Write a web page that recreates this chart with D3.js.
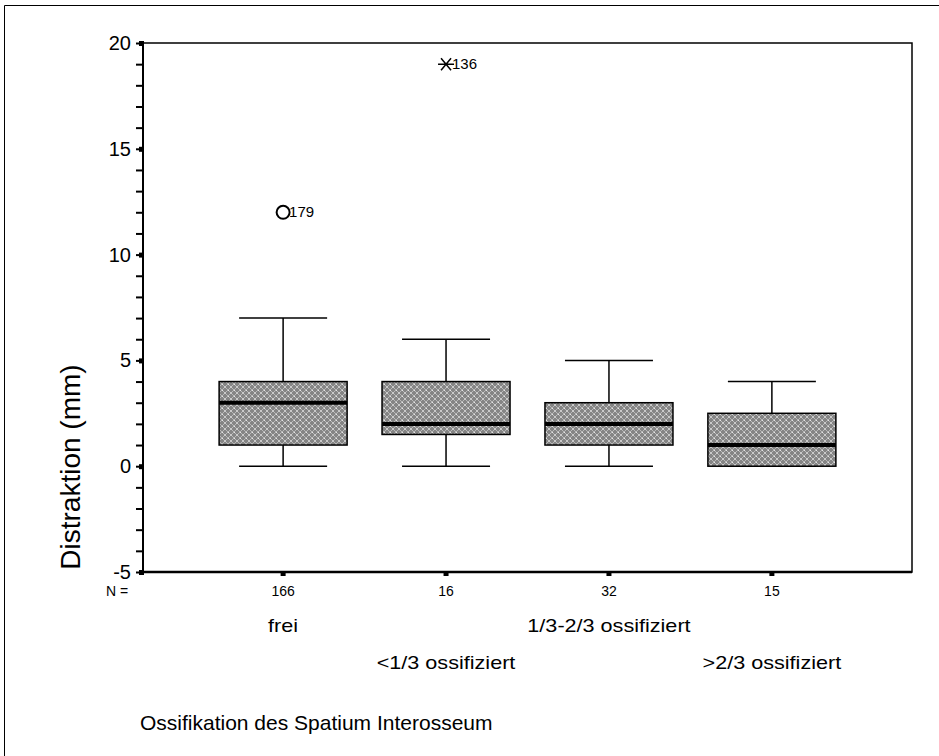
<!DOCTYPE html>
<html>
<head>
<meta charset="utf-8">
<script src="https://cdn.jsdelivr.net/npm/d3@7"></script>
<style>
  body { margin: 0; background: #fff; }
  svg { font-family: Arial, "Liberation Sans", sans-serif; }
</style>
</head>
<body>
<script>
// groups and their box statistics
var groups = ["frei", "<1/3 ossifiziert", "1/3-2/3 ossifiziert", ">2/3 ossifiziert"];
var counts = [166, 16, 32, 15];
var mins = [0, 0, 0, 0];
var q1s = [1, 1.5, 1, 0];
var medians = [3, 2, 2, 1];
var q3s = [4, 4, 3, 2.5];
var maxs = [7, 6, 5, 4];
// outliers: group index, value, case label, type
var outliers = [
  { g: 0, v: 12, label: "179", type: "circle" },
  { g: 1, v: 19, label: "136", type: "star" }
];
var yTicks = [-5, 0, 5, 10, 15, 20];

var W = 939, H = 756;
var mLeft = 143, mRight = 912, mTop = 43, mBottom = 572;

var svg = d3.select("body").append("svg")
  .attr("width", W)
  .attr("height", H);

var defs = svg.append("defs");
var pat = defs.append("pattern")
  .attr("id", "hatch")
  .attr("patternUnits", "userSpaceOnUse")
  .attr("width", 6)
  .attr("height", 6);
pat.append("rect").attr("width", 6).attr("height", 6).attr("fill", "#858585");
pat.append("path").attr("d", "M0,0 L6,6 M6,0 L0,6")
  .attr("stroke", "#b8b8b8").attr("stroke-width", 1);
pat.append("rect").attr("x", 2.5).attr("y", 2.5).attr("width", 1).attr("height", 1).attr("fill", "#fff");
pat.append("rect").attr("x", 0).attr("y", 0).attr("width", 0.8).attr("height", 0.8).attr("fill", "#fff");

// outer frame
svg.append("path")
  .attr("d", "M4.5," + H + " L4.5,5.5 L" + W + ",5.5")
  .attr("fill", "none").attr("stroke", "#000").attr("stroke-width", 1);

var y = d3.scaleLinear().domain([-5, 20]).range([mBottom, mTop]);
var x = d3.scalePoint().domain(groups).range([mLeft, mRight]).padding(0.86);

var boxW = 128, capW = 88;

// plot frame
svg.append("rect")
  .attr("x", mLeft).attr("y", mTop)
  .attr("width", mRight - mLeft).attr("height", mBottom - mTop)
  .attr("fill", "none").attr("stroke", "#000").attr("stroke-width", 1.5);
svg.append("line")
  .attr("x1", mLeft).attr("x2", mRight)
  .attr("y1", mBottom).attr("y2", mBottom)
  .attr("stroke", "#000").attr("stroke-width", 2.5);
svg.append("line")
  .attr("x1", mLeft).attr("x2", mLeft)
  .attr("y1", mTop).attr("y2", mBottom)
  .attr("stroke", "#000").attr("stroke-width", 2);

// y axis: minor ticks every unit, major every 5
var yAxis = d3.axisLeft(y)
  .tickValues(d3.range(-5, 21, 1))
  .tickSize(7)
  .tickFormat(function (d) { return yTicks.indexOf(d) >= 0 ? d : ""; });
var gy = svg.append("g")
  .attr("transform", "translate(" + mLeft + ",0)")
  .call(yAxis);
gy.select(".domain").remove();
gy.selectAll(".tick line").attr("stroke", "#000").attr("stroke-width", 2);
gy.selectAll(".tick text")
  .attr("x", -12)
  .attr("dy", "0.32em")
  .style("font-size", "20px")
  .attr("fill", "#000");
gy.selectAll(".tick")
  .filter(function (d) { return yTicks.indexOf(d) >= 0; })
  .append("rect")
  .attr("x", -4).attr("y", -2.5).attr("width", 5).attr("height", 5)
  .attr("fill", "#000");

// y label
svg.append("text")
  .attr("transform", "translate(80,467) rotate(-90)")
  .attr("text-anchor", "middle")
  .style("font-size", "28px")
  .text("Distraktion (mm)");

// x tick marks
svg.selectAll(".xtick")
  .data(groups)
  .enter().append("rect")
  .attr("x", function (d) { return x(d) - 2.5; })
  .attr("y", mBottom)
  .attr("width", 5).attr("height", 4)
  .attr("fill", "#000");

// N row
svg.append("text")
  .attr("x", 117).attr("y", 596)
  .attr("text-anchor", "middle")
  .style("font-size", "14px")
  .text("N =");
svg.selectAll(".nlab")
  .data(groups)
  .enter().append("text")
  .attr("x", function (d) { return x(d); })
  .attr("y", 596)
  .attr("text-anchor", "middle")
  .style("font-size", "14px")
  .text(function (d, i) { return counts[i]; });

// category labels, alternating rows (slightly stretched, like the original)
svg.selectAll(".clab")
  .data(groups)
  .enter().append("text")
  .attr("transform", function (d, i) {
    return "translate(" + x(d) + "," + (i % 2 === 0 ? 632 : 669) + ") scale(1.2,1)";
  })
  .attr("text-anchor", "middle")
  .style("font-size", "18px")
  .text(function (d) { return d; });

// x title
svg.append("text")
  .attr("x", 140).attr("y", 730)
  .style("font-size", "21px")
  .text("Ossifikation des Spatium Interosseum");

// boxes
var box = svg.selectAll(".box")
  .data(groups)
  .enter().append("g")
  .attr("class", "box");

// whiskers
box.append("line")
  .attr("x1", function (d) { return x(d); })
  .attr("x2", function (d) { return x(d); })
  .attr("y1", function (d, i) { return y(maxs[i]); })
  .attr("y2", function (d, i) { return y(mins[i]); })
  .attr("stroke", "#000").attr("stroke-width", 1.5);
box.append("line")
  .attr("x1", function (d) { return x(d) - capW / 2; })
  .attr("x2", function (d) { return x(d) + capW / 2; })
  .attr("y1", function (d, i) { return y(maxs[i]); })
  .attr("y2", function (d, i) { return y(maxs[i]); })
  .attr("stroke", "#000").attr("stroke-width", 1.5);
box.append("line")
  .attr("x1", function (d) { return x(d) - capW / 2; })
  .attr("x2", function (d) { return x(d) + capW / 2; })
  .attr("y1", function (d, i) { return y(mins[i]); })
  .attr("y2", function (d, i) { return y(mins[i]); })
  .attr("stroke", "#000").attr("stroke-width", 1.5);

box.append("rect")
  .attr("x", function (d) { return x(d) - boxW / 2; })
  .attr("y", function (d, i) { return y(q3s[i]); })
  .attr("width", boxW)
  .attr("height", function (d, i) { return y(q1s[i]) - y(q3s[i]); })
  .attr("fill", "url(#hatch)")
  .attr("stroke", "#000").attr("stroke-width", 1.5);

box.append("line")
  .attr("x1", function (d) { return x(d) - boxW / 2; })
  .attr("x2", function (d) { return x(d) + boxW / 2; })
  .attr("y1", function (d, i) { return y(medians[i]); })
  .attr("y2", function (d, i) { return y(medians[i]); })
  .attr("stroke", "#000").attr("stroke-width", 4);

// outliers
outliers.forEach(function (o) {
  var cx = x(groups[o.g]), cy = y(o.v);
  if (o.type === "circle") {
    svg.append("circle")
      .attr("cx", cx).attr("cy", cy).attr("r", 6.5)
      .attr("fill", "none").attr("stroke", "#000").attr("stroke-width", 2);
  } else {
    svg.append("path")
      .attr("d", "M" + (cx - 8) + "," + cy + " L" + (cx + 8) + "," + cy +
        " M" + (cx - 5) + "," + (cy - 6) + " L" + (cx + 5) + "," + (cy + 6) +
        " M" + (cx + 5) + "," + (cy - 6) + " L" + (cx - 5) + "," + (cy + 6))
      .attr("stroke", "#000").attr("stroke-width", 1.5);
  }
  svg.append("text")
    .attr("x", cx + 6).attr("y", cy + 5)
    .style("font-size", "15px")
    .text(o.label);
});
</script>
</body>
</html>
